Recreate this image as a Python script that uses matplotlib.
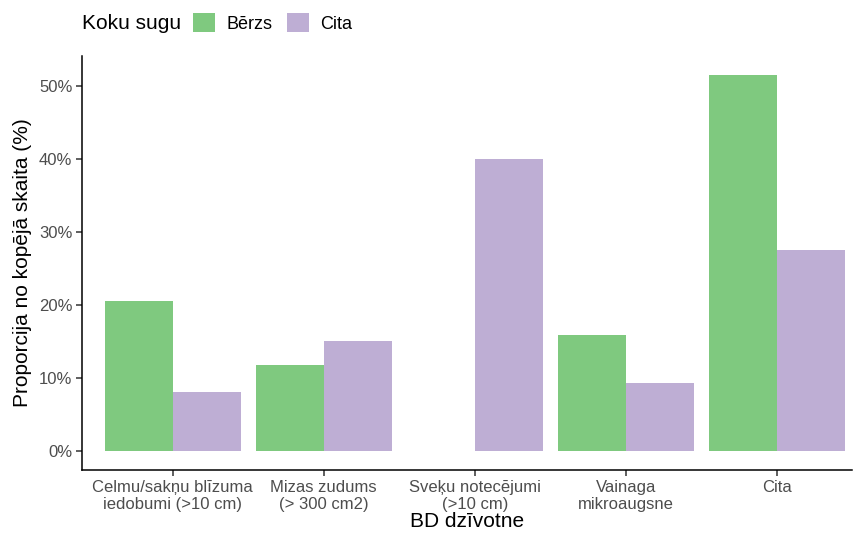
import matplotlib

matplotlib.use("Agg")
import matplotlib.pyplot as plt
import numpy as np
from matplotlib.patches import Patch
from matplotlib.ticker import PercentFormatter

plt.rcParams["font.family"] = ["Liberation Sans", "DejaVu Sans"]

# Proportion of total count (%) per habitat type and tree species
categories = [
    "Celmu/sakņu blīzuma\niedobumi (>10 cm)",
    "Mizas zudums\n(> 300 cm2)",
    "Sveķu notecējumi\n(>10 cm)",
    "Vainaga\nmikroaugsne",
    "Cita",
]
species = ["Bērzs", "Cita"]
berzs = [20.6, 11.8, 0.0, 15.9, 51.6]
cita = [8.1, 15.1, 40.0, 9.3, 27.6]
colors = {"Bērzs": "#7FC97F", "Cita": "#BEAED4"}

fig = plt.figure(figsize=(8.57, 5.36), dpi=100)
ax = fig.add_axes([0.0957, 0.123, 0.899, 0.773])

x = np.arange(1, len(categories) + 1)
width = 0.45
ax.bar(x - width / 2, berzs, width, color=colors["Bērzs"], label="Bērzs")
ax.bar(x + width / 2, cita, width, color=colors["Cita"], label="Cita")

ax.set_xlim(0.4, 5.5)
top = max(berzs + cita)
ax.set_ylim(-0.05 * top, top * 1.05)
ax.set_yticks([0, 10, 20, 30, 40, 50])
ax.yaxis.set_major_formatter(PercentFormatter(decimals=0))
ax.set_xticks(x)
ax.set_xticklabels(categories, linespacing=1.2)

for side in ["top", "right"]:
    ax.spines[side].set_visible(False)
for side in ["left", "bottom"]:
    ax.spines[side].set_linewidth(1.1)
    ax.spines[side].set_color("black")
ax.tick_params(axis="both", labelsize=12, labelcolor="#4D4D4D", length=4,
               width=1.1, color="#333333", pad=3)

ax.set_xlabel("BD dzīvotne", fontsize=15, labelpad=0)
ax.set_ylabel("Proporcija no kopējā skaita (%)", fontsize=15, labelpad=5)

# legend on top: title to the left of the keys
fig.text(0.0957, 0.957, "Koku sugu", fontsize=15, va="center", ha="left")
handles = [Patch(facecolor=colors[s], edgecolor="none") for s in species]
fig.legend(handles, species, loc="center left", bbox_to_anchor=(0.225, 0.957),
           ncol=2, frameon=False, fontsize=13, handlelength=1.25,
           handleheight=1.25, handletextpad=0.6, columnspacing=0.8,
           borderpad=0, borderaxespad=0)

fig.savefig("out.png", dpi=100)
